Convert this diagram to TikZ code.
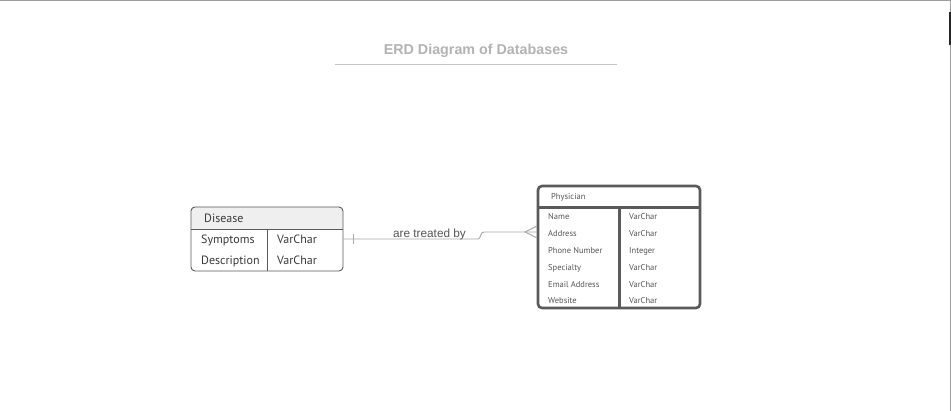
\documentclass[tikz,border=0pt]{standalone}
\usepackage{fontspec}
\setmainfont{Liberation Sans}
\newfontfamily\tabfont{PT Sans}
\definecolor{titlegray}{HTML}{B3B3B3}
\definecolor{linegray}{HTML}{C4C4C4}
\definecolor{boxgray}{HTML}{5A5A5A}
\definecolor{hdrfill}{HTML}{EFEFEF}
\definecolor{txtdark}{HTML}{3A3A3A}
\definecolor{txtmid}{HTML}{555555}
\definecolor{connc}{HTML}{A8A8A8}
\tikzset{
  dtext/.style={font=\tabfont\fontsize{12}{14}\selectfont, text=txtdark, anchor=base west, inner sep=0pt},
  ptext/.style={font=\tabfont\fontsize{8.5}{10}\selectfont, text=txtmid, anchor=base west, inner sep=0pt},
  conn/.style={draw=connc, line width=0.9pt},
}
\begin{document}
\begin{tikzpicture}[x=1pt,y=-1pt]
\useasboundingbox (0,0) rectangle (951,411);
\fill[white] (0,0) rectangle (951,411);
% frame edges
\draw[line width=1pt, draw=linegray!80!black] (0,0.5) -- (951,0.5);
\draw[line width=1pt, draw=linegray!80!black] (950.5,0) -- (950.5,411);
\draw[line width=1.5pt, draw=black!85] (950.2,12) -- (950.2,45);

% title
\node[font=\bfseries\fontsize{14.3}{17}\selectfont, text=titlegray, inner sep=0pt, anchor=base] (title) at (476,55) {ERD Diagram of Databases};
\coordinate (ul1) at (335,64.5);
\coordinate (ul2) at (617,64.5);
\draw[draw=linegray, line width=1.5pt] (ul1) -- (ul2);

% Disease table
\fill[hdrfill, rounded corners=4pt] (191,229) -- (191,207) -- (343,207) -- (343,229) -- cycle;
\fill[hdrfill] (191.5,222) rectangle (342.5,229);
\node[draw=boxgray, line width=0.9pt, rounded corners=4pt, minimum width=152pt, minimum height=64pt, inner sep=0pt] (dis) at (267,239) {};
\draw[draw=boxgray, line width=0.9pt] (dis.west |- 0,229) -- (dis.east |- 0,229);
\draw[draw=boxgray, line width=0.9pt] (267,229) -- (267,0 |- dis.south);
\node[dtext] (dname) at (204,222.5) {Disease};
\node[dtext] (d1) at (201,244) {Symptoms};
\node[dtext] (d1t) at (277,244) {VarChar};
\node[dtext] (d2) at (201,265) {Description};
\node[dtext] (d2t) at (277,265) {VarChar};

% Physician table
\node[draw=boxgray, line width=2.6pt, rounded corners=4pt, minimum width=162pt, minimum height=122pt, inner sep=0pt] (phys) at (619,247) {};
\draw[draw=boxgray, line width=2.6pt] (phys.west |- 0,207.5) -- (phys.east |- 0,207.5);
\draw[draw=boxgray, line width=2.6pt] (619.5,207.5) -- (619.5,0 |- phys.south);
\node[ptext] (pname) at (551,200) {Physician};
\node[ptext] (p1) at (548,219.5) {Name};
\node[ptext] (p1t) at (629,219.5) {VarChar};
\node[ptext] (p2) at (548,236.5) {Address};
\node[ptext] (p2t) at (629,236.5) {VarChar};
\node[ptext] (p3) at (548,253.5) {Phone Number};
\node[ptext] (p3t) at (629,253.5) {Integer};
\node[ptext] (p4) at (548,270.5) {Specialty};
\node[ptext] (p4t) at (629,270.5) {VarChar};
\node[ptext] (p5) at (548,287.5) {Email Address};
\node[ptext] (p5t) at (629,287.5) {VarChar};
\node[ptext] (p6) at (548,303.5) {Website};
\node[ptext] (p6t) at (629,303.5) {VarChar};

% connector
\coordinate (j1) at (478,239);
\coordinate (j2) at (484,232);
\coordinate (pw) at (phys.west |- 0,232);
\coordinate (cf) at (525,232);
\draw[conn] (dis.east) -- (j1) .. controls (481,239) and (480,232) .. (j2) -- (pw);
% one mark
\coordinate (t1) at (353,234);
\coordinate (t2) at (353,244.5);
\draw[conn] (t1) -- (t2);
% crow's foot
\coordinate (cfu) at (537,226);
\coordinate (cfl) at (537,238);
\draw[conn] (cfu) -- (cf) -- (cfl);
\node[font=\fontsize{11.8}{14}\selectfont, text=txtmid, inner sep=0pt, anchor=base] (lbl) at (429.5,237.3) {are treated by};
\end{tikzpicture}
\end{document}
